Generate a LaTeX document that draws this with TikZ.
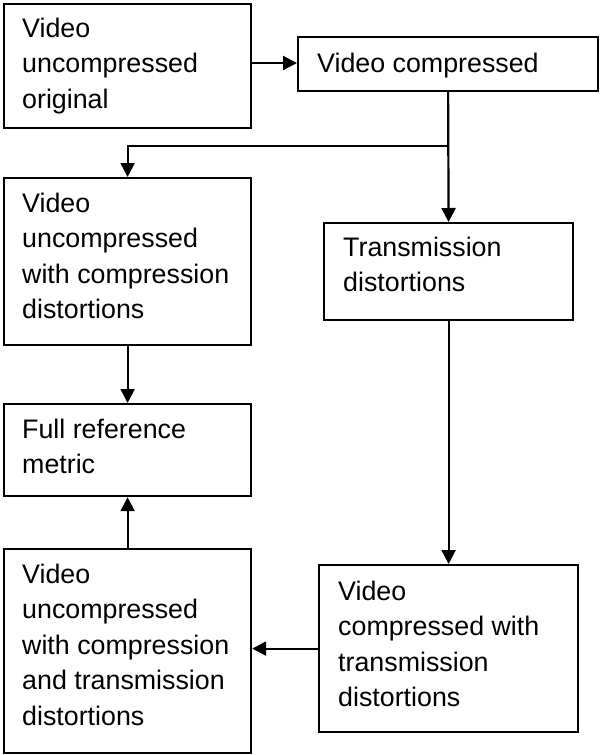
\documentclass[tikz,border=0pt]{standalone}
\usepackage{fontspec}
\setmainfont{Liberation Sans}
\usetikzlibrary{arrows.meta}
\newcommand{\lbl}[1]{\parbox[t]{260pt}{\fontsize{26.8}{35.5}\selectfont\raggedright #1}}
\tikzset{
  box/.style={draw=black, line width=2.2pt, fill=white, inner sep=0pt, anchor=north west},
  lab/.style={anchor=base west, inner sep=0pt},
  con/.style={draw=black, line width=2.2pt, -{Triangle[length=14pt,width=14pt]}},
  lin/.style={draw=black, line width=2.2pt}
}
\begin{document}
\begin{tikzpicture}[x=1pt,y=-1pt]
\useasboundingbox (0,0) rectangle (600,755);
% boxes: left, top, width, height
\node[box, minimum width=247pt, minimum height=124pt] (b1) at (3,3) {};
\node[box, minimum width=300pt, minimum height=54pt] (b2) at (297,36) {};
\node[box, minimum width=247pt, minimum height=167pt] (b3) at (3,177) {};
\node[box, minimum width=249pt, minimum height=97pt] (b4) at (323,222) {};
\node[box, minimum width=247pt, minimum height=92pt] (b5) at (3,403) {};
\node[box, minimum width=247pt, minimum height=204pt] (b6) at (3,548) {};
\node[box, minimum width=259pt, minimum height=167pt] (b7) at (318,564) {};
% labels
\node[lab] (t1) at (22,37) {\lbl{Video\\uncompressed\\original}};
\node[lab] (t2) at (317,72) {\lbl{Video compressed}};
\node[lab] (t3) at (22,212) {\lbl{Video\\uncompressed\\with compression\\distortions}};
\node[lab] (t4) at (343,256) {\lbl{Transmission\\distortions}};
\node[lab] (t5) at (22,438) {\lbl{Full reference\\metric}};
\node[lab] (t6) at (22,583) {\lbl{Video\\uncompressed\\with compression\\and transmission\\distortions}};
\node[lab] (t7) at (338,600) {\lbl{Video\\compressed with\\transmission\\distortions}};
% connectors
\coordinate (j) at (447,146);
\draw[con] (b1.east |- 0,63) -- (b2.west |- 0,63);
\draw[con] (b2.south) -- (b4.north);
\draw[lin] (b2.south |- j) -- (j);
\draw[con] (j) -| (b3.north);
\draw[con] (b3.south) -- (b5.north);
\draw[con] (b4.south) -- (b7.north);
\draw[con] (b7.west) -- (b6.east |- b7.west);
\draw[con] (b6.north) -- (b5.south);
\end{tikzpicture}
\end{document}
